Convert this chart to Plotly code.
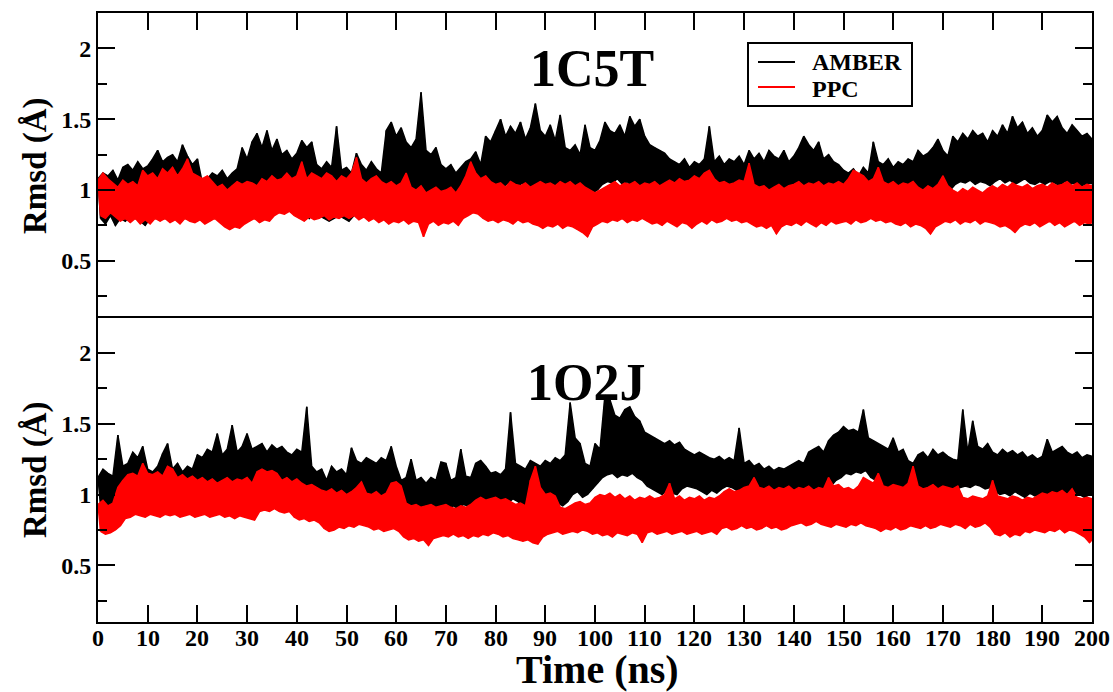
import plotly.graph_objects as go

# Time axis: one sample per ns (upper envelope read at t, lower at t+0.5)
time_ns = list(range(0, 201))
x_ticks = list(range(0, 201, 10))
y_ticks = [0.5, 1, 1.5, 2]
series_names = ["AMBER", "PPC"]
panel_titles = ["1C5T", "1O2J"]

# ---- 1C5T ----
amber_1c5t_hi = [
    1.08, 1.12, 1.10, 1.14, 1.07, 1.16, 1.18, 1.14, 1.20, 1.15,
    1.17, 1.22, 1.28, 1.20, 1.23, 1.25, 1.20, 1.32, 1.24, 1.18,
    1.22, 1.05, 1.08, 1.12, 1.10, 1.14, 1.08, 1.12, 1.15, 1.30,
    1.22, 1.34, 1.40, 1.30, 1.42, 1.28, 1.36, 1.25, 1.28, 1.22,
    1.26, 1.35, 1.30, 1.34, 1.18, 1.15, 1.20, 1.16, 1.45, 1.14,
    1.16, 1.12, 1.26, 1.18, 1.14, 1.20, 1.15, 1.12, 1.42, 1.48,
    1.38, 1.44, 1.34, 1.30, 1.36, 1.69, 1.28, 1.25, 1.30, 1.18,
    1.15, 1.18, 1.12, 1.16, 1.20, 1.22, 1.27, 1.18, 1.38, 1.34,
    1.42, 1.50, 1.38, 1.45, 1.40, 1.48, 1.36, 1.44, 1.61, 1.42,
    1.38, 1.46, 1.35, 1.53, 1.30, 1.28, 1.32, 1.25, 1.46, 1.30,
    1.28, 1.35, 1.48, 1.42, 1.40, 1.46, 1.38, 1.52, 1.45, 1.50,
    1.38, 1.32, 1.30, 1.28, 1.26, 1.22, 1.20, 1.18, 1.22, 1.16,
    1.20, 1.18, 1.22, 1.45, 1.20, 1.24, 1.18, 1.22, 1.20, 1.24,
    1.18, 1.28, 1.22, 1.26, 1.20, 1.28, 1.24, 1.22, 1.28, 1.20,
    1.24, 1.30, 1.38, 1.32, 1.28, 1.34, 1.22, 1.25, 1.20, 1.18,
    1.14, 1.12, 1.15, 1.10, 1.16, 1.12, 1.34, 1.20, 1.18, 1.22,
    1.16, 1.20, 1.18, 1.22, 1.20, 1.28, 1.24, 1.26, 1.30, 1.36,
    1.28, 1.24, 1.38, 1.34, 1.40, 1.36, 1.42, 1.38, 1.40, 1.34,
    1.42, 1.38, 1.46, 1.40, 1.52, 1.44, 1.48, 1.40, 1.44, 1.38,
    1.42, 1.53, 1.48, 1.52, 1.44, 1.40, 1.46, 1.42, 1.38, 1.40,
    1.36]
amber_1c5t_lo = [
    0.80, 0.76, 0.82, 0.75, 0.80, 0.78, 0.82, 0.80, 0.78, 0.75,
    0.80, 0.82, 0.84, 0.80, 0.85, 0.82, 0.86, 0.84, 0.88, 0.85,
    0.82, 0.80, 0.84, 0.82, 0.85, 0.80, 0.82, 0.84, 0.86, 0.90,
    0.92, 0.95, 0.94, 0.96, 0.92, 0.95, 0.90, 0.92, 0.88, 0.90,
    0.88, 0.86, 0.80, 0.84, 0.82, 0.80, 0.78, 0.80, 0.82, 0.80,
    0.78, 0.82, 0.85, 0.88, 0.86, 0.90, 0.88, 0.92, 1.00, 1.02,
    1.00, 1.04, 0.98, 1.00, 0.96, 0.98, 0.95, 0.92, 0.94, 0.90,
    0.92, 0.90, 0.94, 0.92, 0.95, 0.98, 0.96, 0.98, 1.02, 1.00,
    1.04, 1.02, 1.05, 1.00, 1.03, 1.05, 1.02, 1.00, 1.04, 1.02,
    1.00, 1.03, 0.98, 1.00, 0.96, 0.95, 0.98, 0.94, 0.96, 0.98,
    1.00, 1.04, 1.06, 1.05, 1.08, 1.04, 1.06, 1.02, 1.05, 1.03,
    0.98, 0.96, 0.94, 0.95, 0.92, 0.94, 0.90, 0.93, 0.92, 0.94,
    0.92, 0.95, 0.93, 0.96, 0.94, 0.92, 0.95, 0.93, 0.96, 0.94,
    0.95, 0.98, 0.96, 0.94, 0.97, 0.95, 0.98, 0.96, 0.94, 0.96,
    0.98, 1.00, 0.98, 1.02, 0.97, 0.99, 0.96, 0.95, 0.93, 0.92,
    0.90, 0.88, 0.92, 0.90, 0.88, 0.92, 0.94, 0.92, 0.95, 0.93,
    0.95, 0.97, 0.95, 0.98, 0.96, 1.00, 0.98, 1.00, 1.02, 1.00,
    1.02, 1.00, 1.04, 1.06, 1.05, 1.07, 1.04, 1.06, 1.05, 1.03,
    1.06, 1.08, 1.05, 1.07, 1.04, 1.06, 1.08, 1.05, 1.04, 1.06,
    1.04, 1.06, 1.05, 1.03, 1.06, 1.04, 1.05, 1.02, 1.04, 1.05,
    1.04]
ppc_1c5t_hi = [
    1.07, 1.12, 1.08, 1.05, 1.02, 1.07, 1.04, 1.06, 1.03, 1.14,
    1.10, 1.12, 1.08, 1.15, 1.12, 1.16, 1.10, 1.15, 1.22, 1.12,
    1.10, 1.08, 1.10, 1.06, 1.02, 1.04, 1.00, 1.03, 1.06, 1.04,
    1.06, 1.05, 1.03, 1.08, 1.06, 1.10, 1.07, 1.08, 1.12, 1.08,
    1.10, 1.20, 1.08, 1.12, 1.10, 1.08, 1.12, 1.10, 1.06, 1.10,
    1.08, 1.12, 1.23, 1.08, 1.05, 1.08, 1.10, 1.06, 1.04, 1.06,
    1.03, 1.05, 1.12, 1.02, 1.00, 1.03, 0.98, 1.00, 1.02, 0.99,
    1.00, 1.02, 0.98, 1.03, 1.10, 1.20, 1.12, 1.08, 1.10, 1.06,
    1.04, 1.05, 1.02, 1.06, 1.04, 1.03, 1.05, 1.02, 1.04, 1.06,
    1.04, 1.05, 1.03, 1.06, 1.04, 1.06, 1.03, 1.05, 1.02, 1.00,
    0.98, 1.00, 1.02, 1.04, 1.06, 1.03, 1.05, 1.04, 1.06, 1.03,
    1.05, 1.04, 1.06, 1.03, 1.05, 1.07, 1.05, 1.08, 1.06, 1.07,
    1.10, 1.08, 1.12, 1.14, 1.08, 1.05, 1.06, 1.04, 1.05, 1.07,
    1.06, 1.19, 1.04, 1.02, 1.03, 1.00, 1.02, 1.04, 1.01, 1.03,
    1.04, 1.06, 1.03, 1.05, 1.04, 1.06, 1.03, 1.05, 1.04, 1.06,
    1.04, 1.08, 1.14, 1.12, 1.10, 1.06, 1.08, 1.16, 1.06, 1.04,
    1.06, 1.03, 1.05, 1.04, 1.06, 1.02, 1.00, 1.03, 1.01, 1.04,
    1.10, 1.03, 1.00, 0.98, 1.01, 0.99, 1.02, 1.00, 0.98, 1.01,
    1.03, 1.01, 1.04, 1.02, 1.05, 1.03, 1.02, 1.04, 1.01, 1.03,
    1.04, 1.02, 1.05, 1.03, 1.04, 1.06, 1.03, 1.05, 1.02, 1.04,
    1.03]
ppc_1c5t_lo = [
    0.82, 0.80, 0.84, 0.81, 0.78, 0.80, 0.77, 0.80, 0.76, 0.79,
    0.76, 0.80, 0.78, 0.80, 0.77, 0.79, 0.76, 0.80, 0.78, 0.77,
    0.79, 0.76, 0.78, 0.80, 0.77, 0.74, 0.72, 0.74, 0.73, 0.76,
    0.78, 0.80, 0.77, 0.79, 0.78, 0.82, 0.84, 0.83, 0.85, 0.82,
    0.80, 0.78, 0.81, 0.79, 0.80, 0.82, 0.79, 0.81, 0.80, 0.82,
    0.80, 0.82, 0.79, 0.81, 0.78, 0.80, 0.77, 0.79, 0.76, 0.78,
    0.77, 0.79, 0.76, 0.78, 0.77, 0.67, 0.76, 0.78, 0.75, 0.77,
    0.76, 0.78, 0.75, 0.80, 0.82, 0.84, 0.83, 0.80, 0.78, 0.79,
    0.77, 0.79, 0.78, 0.76, 0.79, 0.77, 0.78, 0.76, 0.75, 0.73,
    0.75, 0.74, 0.76, 0.73, 0.75, 0.74, 0.72, 0.70, 0.67, 0.74,
    0.76, 0.78, 0.77, 0.79, 0.78, 0.80, 0.77, 0.79, 0.78, 0.80,
    0.78, 0.76, 0.77, 0.75, 0.78, 0.76, 0.74, 0.77, 0.76, 0.73,
    0.76, 0.78, 0.76, 0.79, 0.77, 0.78, 0.80, 0.78, 0.79, 0.77,
    0.78, 0.76, 0.74, 0.75, 0.73, 0.75, 0.69, 0.74, 0.76, 0.75,
    0.77, 0.75, 0.78, 0.76, 0.74, 0.77, 0.75, 0.78, 0.76, 0.77,
    0.78, 0.76, 0.79, 0.77, 0.78, 0.80, 0.78, 0.79, 0.77, 0.78,
    0.76, 0.75, 0.77, 0.74, 0.76, 0.75, 0.73, 0.69, 0.74, 0.76,
    0.78, 0.77, 0.79, 0.76, 0.78, 0.77, 0.79, 0.76, 0.78, 0.77,
    0.76, 0.74, 0.75, 0.73, 0.70, 0.74, 0.76, 0.75, 0.77, 0.74,
    0.76, 0.78, 0.75, 0.77, 0.74, 0.76, 0.78, 0.75, 0.77, 0.76,
    0.78]

# ---- 1O2J ----
amber_1o2j_hi = [
    1.12, 1.18, 1.15, 1.13, 1.42, 1.20, 1.22, 1.30, 1.26, 1.34,
    1.18, 1.16, 1.20, 1.29, 1.36, 1.18, 1.22, 1.16, 1.20, 1.18,
    1.28, 1.26, 1.32, 1.30, 1.43, 1.28, 1.32, 1.49, 1.30, 1.34,
    1.43, 1.32, 1.34, 1.36, 1.30, 1.35, 1.32, 1.34, 1.30, 1.28,
    1.32, 1.30, 1.62, 1.20, 1.16, 1.18, 1.10, 1.20, 1.16, 1.18,
    1.14, 1.33, 1.24, 1.22, 1.26, 1.24, 1.22, 1.26, 1.24, 1.34,
    1.20, 1.10, 1.12, 1.25, 1.10, 1.12, 1.08, 1.12, 1.10, 1.23,
    1.22, 1.10, 1.12, 1.32, 1.13, 1.12, 1.22, 1.24, 1.20, 1.15,
    1.16, 1.14, 1.18, 1.58, 1.22, 1.20, 1.18, 1.24, 1.22, 1.20,
    1.24, 1.22, 1.26, 1.24, 1.28, 1.65, 1.40, 1.36, 1.22, 1.20,
    1.36, 1.32, 1.70, 1.67, 1.56, 1.54, 1.60, 1.62, 1.55, 1.52,
    1.44, 1.42, 1.40, 1.38, 1.36, 1.38, 1.35, 1.37, 1.32, 1.30,
    1.28, 1.30, 1.28, 1.26, 1.25, 1.27, 1.24, 1.26, 1.24, 1.47,
    1.22, 1.24, 1.20, 1.22, 1.18, 1.20, 1.17, 1.19, 1.18, 1.20,
    1.22, 1.24, 1.22, 1.30, 1.32, 1.34, 1.30, 1.38, 1.42, 1.44,
    1.48, 1.45, 1.46, 1.44, 1.60, 1.40, 1.38, 1.36, 1.34, 1.32,
    1.40, 1.30, 1.32, 1.24, 1.22, 1.28, 1.30, 1.26, 1.32, 1.28,
    1.30, 1.27, 1.25, 1.24, 1.60, 1.30, 1.52, 1.34, 1.32, 1.36,
    1.30, 1.28, 1.32, 1.29, 1.31, 1.28, 1.30, 1.26, 1.28, 1.25,
    1.27, 1.39, 1.30, 1.32, 1.34, 1.30, 1.28, 1.30, 1.26, 1.28,
    1.27]
amber_1o2j_lo = [
    0.92, 0.90, 0.94, 0.92, 0.95, 0.98, 1.00, 0.98, 1.00, 0.98,
    0.98, 0.96, 1.00, 0.98, 0.97, 0.95, 0.98, 0.96, 0.95, 0.97,
    0.98, 1.00, 0.98, 1.02, 1.00, 0.98, 1.00, 0.98, 1.02, 1.00,
    1.00, 1.02, 1.04, 1.02, 1.03, 1.00, 1.02, 1.00, 0.98, 0.96,
    0.95, 0.92, 0.94, 0.90, 0.86, 0.82, 0.85, 0.88, 0.90, 0.92,
    0.94, 0.96, 0.95, 0.98, 0.96, 0.95, 0.94, 0.96, 0.95, 0.97,
    0.94, 0.92, 0.90, 0.92, 0.90, 0.88, 0.90, 0.89, 0.90, 0.92,
    0.90, 0.92, 0.90, 0.93, 0.92, 0.94, 0.96, 0.95, 0.94, 0.96,
    0.95, 0.96, 0.94, 0.97, 0.95, 0.92, 0.94, 0.96, 0.98, 0.96,
    0.98, 0.96, 0.94, 0.92, 0.95, 1.00, 1.02, 0.98, 1.00, 1.04,
    1.08, 1.12, 1.14, 1.15, 1.12, 1.14, 1.13, 1.15, 1.12, 1.10,
    1.06, 1.04, 1.02, 1.00, 1.03, 1.01, 1.00, 1.04, 1.06, 1.05,
    1.04, 1.02, 1.00, 1.03, 1.01, 1.04, 1.06, 1.05, 1.03, 1.02,
    1.00, 1.02, 1.00, 0.98, 1.00, 0.99, 1.01, 0.98, 1.00, 1.02,
    1.03, 1.01, 1.04, 1.02, 1.05, 1.03, 1.08, 1.06, 1.10, 1.12,
    1.15, 1.14, 1.16, 1.15, 1.17, 1.12, 1.10, 1.06, 1.04, 1.03,
    1.02, 1.00, 1.03, 1.01, 0.99, 1.02, 1.00, 1.01, 1.03, 1.02,
    1.04, 1.02, 1.03, 1.05, 1.06, 1.05, 1.07, 1.06, 1.04, 1.05,
    1.02, 1.00, 1.01, 0.99, 1.02, 1.00, 0.98, 1.01, 0.99, 1.00,
    1.01, 0.99, 1.02, 1.00, 0.98, 1.01, 0.99, 1.00, 0.98, 1.00,
    0.99]
ppc_1o2j_hi = [
    0.93, 0.96, 0.92, 0.94, 1.05, 1.10, 1.14, 1.15, 1.13, 1.22,
    1.15, 1.14, 1.16, 1.13, 1.20, 1.18, 1.12, 1.14, 1.11, 1.13,
    1.10, 1.12, 1.09, 1.11, 1.08, 1.10, 1.12, 1.09, 1.11, 1.10,
    1.12, 1.08, 1.16, 1.18, 1.16, 1.17, 1.15, 1.10, 1.12, 1.09,
    1.11, 1.08, 1.06, 1.07, 1.05, 1.03, 1.02, 1.04, 1.01, 1.03,
    1.00, 1.02, 1.05, 1.09, 1.01, 1.00, 1.02, 0.99, 1.01, 1.08,
    1.09, 1.06, 0.94, 0.92, 0.93, 0.91, 0.92, 0.93, 0.91, 0.92,
    0.93, 0.91, 0.90, 0.92, 0.91, 0.93, 0.96, 0.98, 0.96, 0.97,
    0.98, 0.96, 0.97, 0.95, 0.93, 0.94, 0.92, 1.10, 1.20, 1.05,
    1.00, 1.01, 0.99, 0.91, 0.90, 0.92, 0.94, 0.95, 0.93, 0.94,
    0.98, 1.00, 0.99, 1.01, 0.98, 1.00, 0.97, 0.99, 0.96, 0.98,
    0.97, 0.99, 0.97, 0.98, 1.00, 1.08, 0.97, 0.99, 0.96, 0.98,
    0.97, 0.99, 0.96, 0.98, 0.97, 0.99, 1.02, 1.04, 1.02, 1.03,
    1.05, 1.06, 1.12, 1.05, 1.04, 1.06, 1.03, 1.05, 1.04, 1.06,
    1.03, 1.05, 1.04, 1.06, 1.03, 1.05, 1.04, 1.12, 1.06, 1.07,
    1.04, 1.05, 1.03, 1.06, 1.12, 1.10, 1.08, 1.15, 1.06, 1.05,
    1.07, 1.06, 1.05, 1.08, 1.20, 1.06, 1.04, 1.05, 1.07, 1.04,
    1.06, 1.05, 1.04, 1.06, 0.98, 0.97, 0.99, 0.98, 0.97, 0.99,
    1.10, 0.99, 0.98, 0.97, 0.99, 0.98, 0.96, 0.98, 0.97, 0.99,
    1.01, 1.00, 1.02, 1.01, 1.03, 1.00, 1.04, 0.98, 0.97, 0.98,
    0.97]
ppc_1o2j_lo = [
    0.74, 0.72, 0.73, 0.75, 0.78, 0.83, 0.84, 0.86, 0.85, 0.84,
    0.86, 0.85, 0.84, 0.86, 0.85, 0.86, 0.84, 0.85, 0.86, 0.84,
    0.85, 0.86, 0.84, 0.85, 0.86, 0.84, 0.85, 0.83, 0.85, 0.84,
    0.83, 0.82, 0.88, 0.89, 0.88, 0.90, 0.88, 0.87, 0.88, 0.84,
    0.82, 0.83, 0.81, 0.82, 0.80, 0.76, 0.74, 0.75, 0.77, 0.76,
    0.78, 0.77, 0.79, 0.78, 0.77, 0.75, 0.76, 0.74, 0.75, 0.76,
    0.74, 0.70, 0.68, 0.69, 0.67, 0.68, 0.64, 0.69, 0.70, 0.71,
    0.70, 0.72, 0.70, 0.71, 0.69, 0.71, 0.70, 0.72, 0.71, 0.73,
    0.72, 0.70, 0.71, 0.69, 0.68, 0.67, 0.68, 0.66, 0.65, 0.70,
    0.72, 0.73, 0.74, 0.72, 0.73, 0.74, 0.73, 0.75, 0.74, 0.72,
    0.73, 0.71, 0.72, 0.70, 0.73, 0.72, 0.71, 0.73, 0.72, 0.66,
    0.73, 0.74, 0.72, 0.73, 0.74, 0.72, 0.73, 0.74, 0.72, 0.73,
    0.74, 0.72, 0.73, 0.74, 0.72, 0.76, 0.77, 0.75, 0.76, 0.78,
    0.76, 0.77, 0.75, 0.76, 0.78, 0.76, 0.77, 0.75, 0.76, 0.78,
    0.79, 0.80, 0.78, 0.79, 0.81, 0.79, 0.78, 0.77, 0.79, 0.78,
    0.77, 0.79, 0.78, 0.80, 0.78, 0.77, 0.76, 0.74, 0.76, 0.75,
    0.77, 0.75, 0.76, 0.78, 0.77, 0.76, 0.78, 0.76, 0.77, 0.79,
    0.78, 0.77, 0.79, 0.78, 0.76, 0.79, 0.77, 0.78, 0.80, 0.77,
    0.72, 0.71, 0.73, 0.70, 0.72, 0.71, 0.74, 0.73, 0.75, 0.74,
    0.73, 0.75, 0.74, 0.76, 0.73, 0.75, 0.74, 0.72, 0.70, 0.66,
    0.70]

colors = {"AMBER": "#000000", "PPC": "#ff0000"}
FONT = "Liberation Serif"

fig = go.Figure()
panels = [
    ("x", "y", amber_1c5t_hi, amber_1c5t_lo, ppc_1c5t_hi, ppc_1c5t_lo),
    ("x2", "y2", amber_1o2j_hi, amber_1o2j_lo, ppc_1o2j_hi, ppc_1o2j_lo),
]
t_lo = [t + 0.5 for t in time_ns]
for xa, ya, ah, al, ph, pl in panels:
    for name, hi, lo in (("AMBER", ah, al), ("PPC", ph, pl)):
        c = colors[name]
        # upper envelope
        fig.add_trace(go.Scatter(
            x=time_ns, y=hi, mode="lines", name=name, showlegend=False,
            line=dict(color=c, width=1.5), xaxis=xa, yaxis=ya, hoverinfo="skip"))
        # lower envelope, band filled up to the upper envelope
        fig.add_trace(go.Scatter(
            x=t_lo, y=lo, mode="lines", name=name, showlegend=False,
            line=dict(color=c, width=1.5), fill="tonexty", fillcolor=c,
            xaxis=xa, yaxis=ya, hoverinfo="skip"))
        # sample-to-sample fluctuation line
        xs, ys = [], []
        for t, h, l in zip(time_ns, hi, lo):
            xs += [t, t + 0.5]
            ys += [h, l]
        fig.add_trace(go.Scatter(
            x=xs, y=ys, mode="lines", name=name, showlegend=False,
            line=dict(color=c, width=1.5), xaxis=xa, yaxis=ya, hoverinfo="skip"))

axis_common = dict(
    showline=True, linewidth=2, linecolor="black",
    ticks="inside", tickwidth=2, ticklen=17, tickcolor="black",
    showgrid=False, zeroline=False, automargin=False,
    tickfont=dict(family=FONT, size=24, color="black"),
)
xcommon = dict(axis_common, range=[0, 200], tickmode="array", tickvals=x_ticks,
               showticklabels=False)
ycommon = dict(axis_common, range=[0.1, 2.25], tickmode="array", tickvals=y_ticks,
               ticktext=[f"<b>{v}</b>" for v in y_ticks], mirror="allticks",
               minor=dict(ticks="inside", dtick=0.25, tick0=0, ticklen=9,
                          tickwidth=2, tickcolor="black"))

fig.update_layout(
    width=1113, height=692,
    margin=dict(l=98, r=21, t=13, b=70, autoexpand=False),
    paper_bgcolor="white", plot_bgcolor="white",
    font=dict(family=FONT, color="black"),
    xaxis=dict(xcommon, domain=[0, 1], anchor="y", side="top", mirror=False),
    xaxis2=dict(xcommon, domain=[0, 1], anchor="y2", side="bottom", mirror=True,
                matches="x"),
    yaxis=dict(ycommon, domain=[0.5, 1], anchor="x"),
    yaxis2=dict(ycommon, domain=[0, 0.5], anchor="x2"),
    showlegend=False,
)


# Legend box drawn in paper coordinates
def px_x(px):
    return (px - 98) / 994.0


def px_y(py):
    return (622 - py) / 609.0


shapes = [
    dict(type="rect", xref="paper", yref="paper", x0=px_x(748), x1=px_x(912),
         y0=px_y(106), y1=px_y(43), line=dict(color="black", width=2),
         fillcolor="white", layer="above"),
    dict(type="line", xref="paper", yref="paper", x0=px_x(758), x1=px_x(795),
         y0=px_y(62), y1=px_y(62), line=dict(color=colors["AMBER"], width=2), layer="above"),
    dict(type="line", xref="paper", yref="paper", x0=px_x(758), x1=px_x(795),
         y0=px_y(87), y1=px_y(87), line=dict(color=colors["PPC"], width=2), layer="above"),
]

annotations = [
    dict(text="<b>%s</b>" % series_names[0], x=px_x(810), y=px_y(62), xref="paper", yref="paper",
         showarrow=False, font=dict(family=FONT, size=24, color="black"),
         xanchor="left", yanchor="middle"),
    dict(text="<b>%s</b>" % series_names[1], x=px_x(810), y=px_y(89), xref="paper", yref="paper",
         showarrow=False, font=dict(family=FONT, size=24, color="black"),
         xanchor="left", yanchor="middle"),
    dict(text="<b>%s</b>" % panel_titles[0], x=px_x(592), y=px_y(68), xref="paper", yref="paper",
         showarrow=False, font=dict(family=FONT, size=52, color="black"),
         xanchor="center", yanchor="middle"),
    dict(text="<b>%s</b>" % panel_titles[1], x=px_x(586), y=px_y(382), xref="paper", yref="paper",
         showarrow=False, font=dict(family=FONT, size=52, color="black"),
         xanchor="center", yanchor="middle"),
    dict(text="<b>Rmsd (Å)</b>", x=px_x(35), y=px_y(166), xref="paper", yref="paper",
         showarrow=False, textangle=-90, font=dict(family=FONT, size=33, color="black"),
         xanchor="center", yanchor="middle"),
    dict(text="<b>Rmsd (Å)</b>", x=px_x(35), y=px_y(470), xref="paper", yref="paper",
         showarrow=False, textangle=-90, font=dict(family=FONT, size=33, color="black"),
         xanchor="center", yanchor="middle"),
    dict(text="<b>Time (ns)</b>", x=px_x(597), y=px_y(669), xref="paper", yref="paper",
         showarrow=False, font=dict(family=FONT, size=40, color="black"),
         xanchor="center", yanchor="middle"),
]
# x tick labels of the bottom panel, placed on the x2 data scale
for v in x_ticks:
    annotations.append(dict(
        text=f"<b>{v}</b>", x=v, y=px_y(638), xref="x2", yref="paper",
        showarrow=False, font=dict(family=FONT, size=24, color="black"),
        xanchor="center", yanchor="middle"))
fig.update_layout(shapes=shapes, annotations=annotations)

fig.write_html("out.html", config={"displayModeBar": False})

# remove the default page margin so the figure sits at the window's top-left corner
with open("out.html", "r", encoding="utf-8") as f:
    html = f.read()
html = html.replace("<head>", "<head><style>html,body{margin:0;padding:0;}</style>", 1)
with open("out.html", "w", encoding="utf-8") as f:
    f.write(html)
